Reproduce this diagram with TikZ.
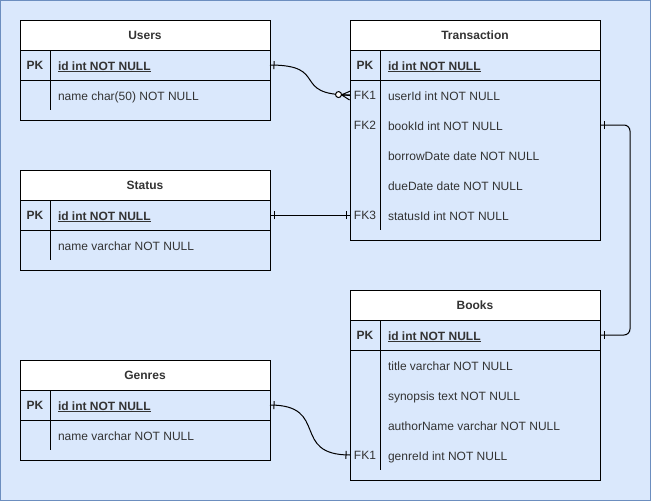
\documentclass[tikz,border=0pt]{standalone}
\usepackage{fontspec}
\setmainfont{Liberation Sans}
\usepackage[HTML]{xcolor}
\usepackage{tikz}
\usetikzlibrary{positioning, decorations.markings}

\definecolor{pagebg}{HTML}{DAE8FC}
\definecolor{pageline}{HTML}{6C8EBF}

\tikzset{
  tblbox/.style={draw, anchor=north west, minimum width=250pt, inner sep=0pt, outer sep=0pt, line width=1pt},
  tbltitle/.style={draw, fill=white, anchor=north west, minimum width=250pt, minimum height=30pt,
    inner sep=0pt, outer sep=0pt, line width=1pt, font=\fontsize{12pt}{14pt}\selectfont\bfseries},
  keycell/.style={anchor=north west, minimum width=30pt, minimum height=30pt, inner sep=0pt, outer sep=0pt},
  fieldcell/.style={anchor=base west, inner sep=0pt, outer sep=0pt},
  onestart/.style={postaction={decorate, decoration={markings,
    mark=at position 4pt with {\draw[line width=1pt] (0,-4pt) -- (0,4pt);}}}},
  oneend/.style={postaction={decorate, decoration={markings,
    mark=at position -4pt with {\draw[line width=1pt] (0,-4pt) -- (0,4pt);}}}},
  zeromanyend/.style={postaction={decorate, decoration={markings,
    mark=at position -11.5pt with {\draw[line width=1pt, fill=white] (0,0) circle (3pt);
      \draw[line width=1pt] (3pt,0) -- (11.5pt,4.5pt) (3pt,0) -- (11.5pt,0) (3pt,0) -- (11.5pt,-4.5pt);}}}},
  relline/.style={line width=1pt},
}

\begin{document}
\begin{tikzpicture}[x=1pt, y=-1pt, text=black!80, font=\fontsize{12pt}{14pt}\selectfont]
\useasboundingbox (0,0) rectangle (651,501);
% page
\draw[fill=pagebg, draw=pageline, line width=1pt] (0.5,0.5) rectangle (650.5,500.5);

% Users
\node[tblbox, minimum height=100pt] (users-box) at (20,20) {};
\node[tbltitle] (users) at (users-box.north west) {Users};
\node[keycell] (users-pk) at (users.south west) {\textbf{PK}};
\node[fieldcell] (users-id) at ([xshift=8pt, yshift=-5pt]users-pk.east) {\textbf{\underline{id int NOT NULL}}};
\node[keycell, below=0pt of users-pk] (users-k1) {};
\node[fieldcell] (users-name) at ([xshift=8pt, yshift=-5pt]users-k1.east) {name char(50) NOT NULL};
\draw[line width=1pt] (users-pk.south west) -- (users-pk.south west -| users-box.east);
\draw[line width=1pt] (users-pk.north east) -- (users-k1.south east);

% Status
\node[tblbox, minimum height=100pt] (status-box) at (20,170) {};
\node[tbltitle] (status) at (status-box.north west) {Status};
\node[keycell] (status-pk) at (status.south west) {\textbf{PK}};
\node[fieldcell] (status-id) at ([xshift=8pt, yshift=-5pt]status-pk.east) {\textbf{\underline{id int NOT NULL}}};
\node[keycell, below=0pt of status-pk] (status-k1) {};
\node[fieldcell] (status-name) at ([xshift=8pt, yshift=-5pt]status-k1.east) {name varchar NOT NULL};
\draw[line width=1pt] (status-pk.south west) -- (status-pk.south west -| status-box.east);
\draw[line width=1pt] (status-pk.north east) -- (status-k1.south east);

% Genres
\node[tblbox, minimum height=100pt] (genres-box) at (20,360) {};
\node[tbltitle] (genres) at (genres-box.north west) {Genres};
\node[keycell] (genres-pk) at (genres.south west) {\textbf{PK}};
\node[fieldcell] (genres-id) at ([xshift=8pt, yshift=-5pt]genres-pk.east) {\textbf{\underline{id int NOT NULL}}};
\node[keycell, below=0pt of genres-pk] (genres-k1) {};
\node[fieldcell] (genres-name) at ([xshift=8pt, yshift=-5pt]genres-k1.east) {name varchar NOT NULL};
\draw[line width=1pt] (genres-pk.south west) -- (genres-pk.south west -| genres-box.east);
\draw[line width=1pt] (genres-pk.north east) -- (genres-k1.south east);

% Transaction
\node[tblbox, minimum height=220pt] (trans-box) at (350,20) {};
\node[tbltitle] (trans) at (trans-box.north west) {Transaction};
\node[keycell] (trans-pk) at (trans.south west) {\textbf{PK}};
\node[fieldcell] (trans-id) at ([xshift=8pt, yshift=-5pt]trans-pk.east) {\textbf{\underline{id int NOT NULL}}};
\node[keycell, below=0pt of trans-pk] (trans-k1) {FK1};
\node[fieldcell] (trans-user) at ([xshift=8pt, yshift=-5pt]trans-k1.east) {userId int NOT NULL};
\node[keycell, below=0pt of trans-k1] (trans-k2) {FK2};
\node[fieldcell] (trans-book) at ([xshift=8pt, yshift=-5pt]trans-k2.east) {bookId int NOT NULL};
\node[keycell, below=0pt of trans-k2] (trans-k3) {};
\node[fieldcell] (trans-borrow) at ([xshift=8pt, yshift=-5pt]trans-k3.east) {borrowDate date NOT NULL};
\node[keycell, below=0pt of trans-k3] (trans-k4) {};
\node[fieldcell] (trans-due) at ([xshift=8pt, yshift=-5pt]trans-k4.east) {dueDate date NOT NULL};
\node[keycell, below=0pt of trans-k4] (trans-k5) {FK3};
\node[fieldcell] (trans-status) at ([xshift=8pt, yshift=-5pt]trans-k5.east) {statusId int NOT NULL};
\draw[line width=1pt] (trans-pk.south west) -- (trans-pk.south west -| trans-box.east);
\draw[line width=1pt] (trans-pk.north east) -- (trans-k5.south east);

% Books
\node[tblbox, minimum height=190pt] (books-box) at (350,290) {};
\node[tbltitle] (books) at (books-box.north west) {Books};
\node[keycell] (books-pk) at (books.south west) {\textbf{PK}};
\node[fieldcell] (books-id) at ([xshift=8pt, yshift=-5pt]books-pk.east) {\textbf{\underline{id int NOT NULL}}};
\node[keycell, below=0pt of books-pk] (books-k1) {};
\node[fieldcell] (books-title) at ([xshift=8pt, yshift=-5pt]books-k1.east) {title varchar NOT NULL};
\node[keycell, below=0pt of books-k1] (books-k2) {};
\node[fieldcell] (books-synopsis) at ([xshift=8pt, yshift=-5pt]books-k2.east) {synopsis text NOT NULL};
\node[keycell, below=0pt of books-k2] (books-k3) {};
\node[fieldcell] (books-author) at ([xshift=8pt, yshift=-5pt]books-k3.east) {authorName varchar NOT NULL};
\node[keycell, below=0pt of books-k3] (books-k4) {FK1};
\node[fieldcell] (books-genre) at ([xshift=8pt, yshift=-5pt]books-k4.east) {genreId int NOT NULL};
\draw[line width=1pt] (books-pk.south west) -- (books-pk.south west -| books-box.east);
\draw[line width=1pt] (books-pk.north east) -- (books-k4.south east);

% relations
\draw[relline, onestart, zeromanyend] (users-pk -| users-box.east)
  .. controls +(60,0) and +(-60,0) .. (trans-k1.west);
\draw[relline, onestart, oneend] (status-pk -| status-box.east) -- (trans-k5.west);
\draw[relline, onestart, oneend, rounded corners=6pt] (trans-k2 -| trans-box.east)
  -- ++(30,0) |- (books-pk -| books-box.east);
\draw[relline, onestart, oneend] (genres-pk -| genres-box.east)
  .. controls +(60,0) and +(-60,0) .. (books-k4.west);
\end{tikzpicture}
\end{document}
